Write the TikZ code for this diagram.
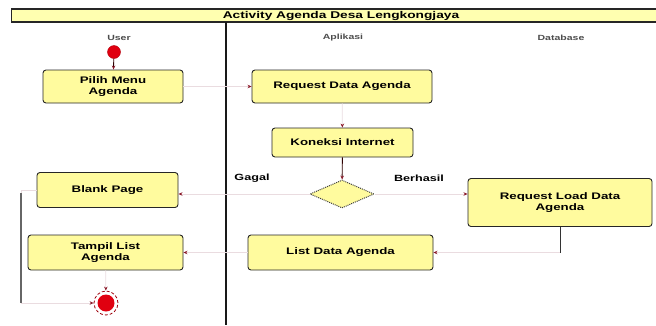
\documentclass[tikz,border=0pt]{standalone}
\usepackage{fontspec}
\usetikzlibrary{shapes.geometric,arrows.meta}
\newfontfamily\lblfont[FakeStretch=1.4]{Liberation Sans}
\definecolor{boxfill}{HTML}{FFFB9E}
\definecolor{titlefill}{HTML}{FFFFB0}
\definecolor{faintline}{HTML}{EADCE0}
\definecolor{tipred}{HTML}{8B1A2A}
\definecolor{startred}{HTML}{E00010}
\tikzset{
  actbox/.style={draw=black!85, line width=0.9pt, fill=boxfill, rounded corners=3pt,
    align=center, inner sep=2pt, font=\lblfont\bfseries\fontsize{9.5}{10.5}\selectfont},
  decbox/.style={diamond, draw=black!75, densely dotted, line width=1pt, fill=boxfill, inner sep=0pt,
    minimum width=64pt, minimum height=28pt},
  conn/.style={draw=faintline, line width=0.7pt, -{Stealth[length=4pt,width=3.5pt,color=tipred]}},
  darkconn/.style={draw=black!70!red!60!black, line width=0.9pt},
  lanelbl/.style={font=\lblfont\bfseries\fontsize{7.5}{9}\selectfont, text=black!70},
  guardlbl/.style={font=\lblfont\bfseries\fontsize{9}{10}\selectfont},
}
\begin{document}
\begin{tikzpicture}[x=1pt,y=-1pt]
\useasboundingbox (0,0) rectangle (656,325);
% title bar
\fill[titlefill] (11,9) rectangle (662,22);
\draw[line width=1.5pt, black!85] (11,9) -- (662,9);
\draw[line width=1.5pt, black!85] (11,22) -- (662,22);
\draw[line width=0.8pt, black!85] (11,9) -- (11,22);
\node[font=\lblfont\bfseries\fontsize{9.8}{10}\selectfont] (title) at (341,15.5) {Activity Agenda Desa Lengkongjaya};
% lanes
\draw[line width=1.3pt, black!90] (226,22) -- (226,325);
\node[lanelbl] (luser) at (119,38) {User};
\node[lanelbl] (lapp) at (343,38) {Aplikasi};
\node[lanelbl] (ldb) at (561,38) {Database};
% nodes
\node[circle, fill=startred, draw=startred!80!black, minimum size=13pt, inner sep=0pt] (start) at (114,52) {};
\node[actbox, minimum width=140pt, minimum height=33pt] (pilih) at (113,86.5) {Pilih Menu\\Agenda};
\node[actbox, minimum width=180pt, minimum height=33pt] (reqdata) at (342,86.5) {Request Data Agenda};
\node[actbox, minimum width=141pt, minimum height=29pt] (koneksi) at (342.5,142.5) {Koneksi Internet};
\node[decbox] (dec) at (342,194) {};
\node[actbox, minimum width=141pt, minimum height=35pt] (blank) at (107.5,190) {Blank Page};
\node[actbox, minimum width=184pt, minimum height=48pt] (reqload) at (560,202.5) {Request Load Data\\Agenda};
\node[actbox, minimum width=185pt, minimum height=35pt] (listdata) at (340.5,252.5) {List Data Agenda};
\node[actbox, minimum width=155pt, minimum height=35pt] (tampil) at (105.5,252.5) {Tampil List\\Agenda};
\node[circle, draw=startred!70!black, densely dashed, line width=0.8pt, minimum size=24pt, inner sep=0pt] (final) at (106,303) {};
\fill[startred] (final.center) circle (8.5pt);
% labels
\node[guardlbl] (gagal) at (252,178) {Gagal};
\node[guardlbl] (berhasil) at (419,178) {Berhasil};
% connectors
\draw[darkconn, -{Stealth[length=4pt,width=3.5pt,color=tipred]}] (start) -- (pilih);
\draw[conn] (pilih) -- (reqdata);
\draw[conn] (reqdata) -- (koneksi);
\draw[darkconn, -{Stealth[length=4pt,width=3.5pt,color=tipred]}] (koneksi) -- (dec);
\draw[conn] (dec.west) -- (dec.west -| blank.east);
\draw[conn] (dec.east) -- (dec.east -| reqload.west);
\draw[conn] (reqload.south) |- (listdata.east);
\draw[line width=1pt, black!80] (reqload.south) -- (reqload.south |- listdata.east);
\draw[conn] (listdata) -- (tampil);
\draw[conn] (tampil) -- (final);
\coordinate (lt) at (21,190);
\coordinate (lb) at (21,303);
\draw[conn] (blank.west) -- (lt) -- (lb) -- (final.west);
\draw[line width=1.3pt, black!60] (21,193) -- (lb);
\end{tikzpicture}
\end{document}
